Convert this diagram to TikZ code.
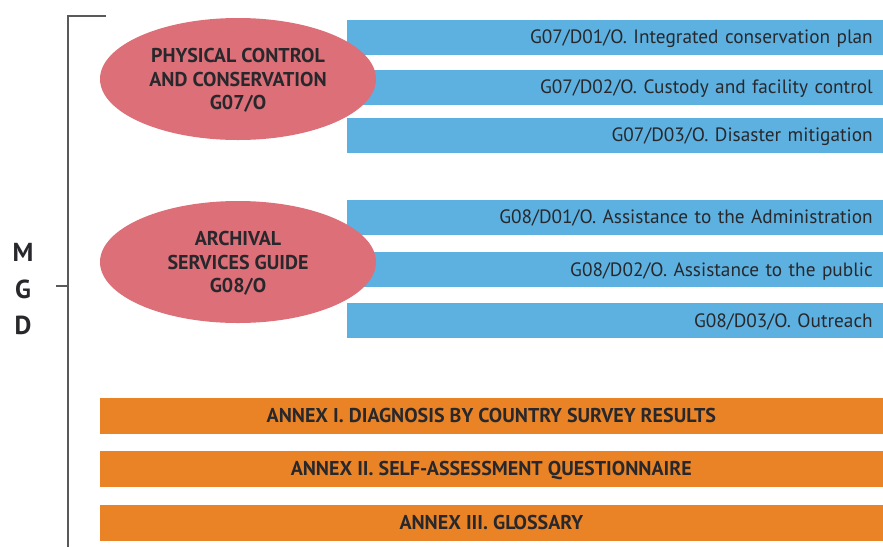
\documentclass[tikz,border=0pt]{standalone}
\usepackage{fontspec}
\setmainfont{PT Sans}
\usetikzlibrary{positioning,shapes.geometric}
\definecolor{guidered}{RGB}{220,111,120}
\definecolor{deskblue}{RGB}{93,177,224}
\definecolor{annexorange}{RGB}{233,131,37}
\definecolor{inkdark}{RGB}{40,40,44}
\tikzset{
    guide/.style = {
        shape=ellipse,
        fill=guidered,
        minimum width=276pt,
        minimum height=122pt,
        inner sep=0pt,
        align=center,
        text depth=0pt,
        text=inkdark,
        font=\fontsize{20}{23.5}\selectfont\bfseries
    },
    desk/.style = {
        shape=rectangle,
        fill=deskblue,
        anchor=east,
        minimum height=35pt,
        inner xsep=10pt,
        inner ysep=0pt,
        text width=516pt,
        text height=13pt,
        text depth=0pt,
        align=right,
        text=inkdark,
        font=\fontsize{19.3}{21}\selectfont
    },
    annex/.style = {
        shape=rectangle,
        fill=annexorange,
        anchor=east,
        minimum height=36pt,
        minimum width=783pt,
        inner sep=0pt,
        text height=13.5pt,
        text depth=0pt,
        text=inkdark,
        font=\fontsize{20}{22}\selectfont\bfseries
    },
    letter/.style = {
        text=inkdark,
        inner sep=0pt,
        font=\fontsize{26}{28}\selectfont\bfseries
    },
    bracket/.style = {
        draw=black!65,
        line width=1.5pt
    }
}

\begin{document}
\begin{tikzpicture}[x=1pt,y=-1pt]
            \useasboundingbox (0,0) rectangle (883,547);

            % bracket
            \coordinate (btop) at (68,16);
            \coordinate (btick) at (106,16);
            \coordinate (bbot) at (68,547);
            \coordinate (bmid) at (68,286);
            \coordinate (bmidout) at (56,286);
            \path[bracket] (btick) -- (btop) -- (bbot);
            \path[bracket] (bmidout) -- (bmid);

            \node[letter] (m) at (23,252) {M};
            \node[letter] (g) at (23,289) {G};
            \node[letter] (d) at (23,325) {D};

            \node[desk] (d701) at (883,37) {G07/D01/O. Integrated conservation plan};
            \node[desk] (d702) at (883,87) {G07/D02/O. Custody and facility control};
            \node[desk] (d703) at (883,135) {G07/D03/O. Disaster mitigation};
            \node[desk] (d801) at (883,217) {G08/D01/O. Assistance to the Administration};
            \node[desk] (d802) at (883,269.5) {G08/D02/O. Assistance to the public};
            \node[desk] (d803) at (883,320.5) {G08/D03/O. Outreach};

            \node[guide] (g07) at (238,79) {PHYSICAL CONTROL\\AND CONSERVATION\\G07/O};
            \node[guide] (g08) at (238,262) {ARCHIVAL\\SERVICES GUIDE\\G08/O};

            \node[annex] (annex1) at (883,416) {ANNEX I. DIAGNOSIS BY COUNTRY SURVEY RESULTS};
            \node[annex] (annex2) at (883,469) {ANNEX II. SELF-ASSESSMENT QUESTIONNAIRE};
            \node[annex] (annex3) at (883,523) {ANNEX III. GLOSSARY};

        \end{tikzpicture}
\end{document}
